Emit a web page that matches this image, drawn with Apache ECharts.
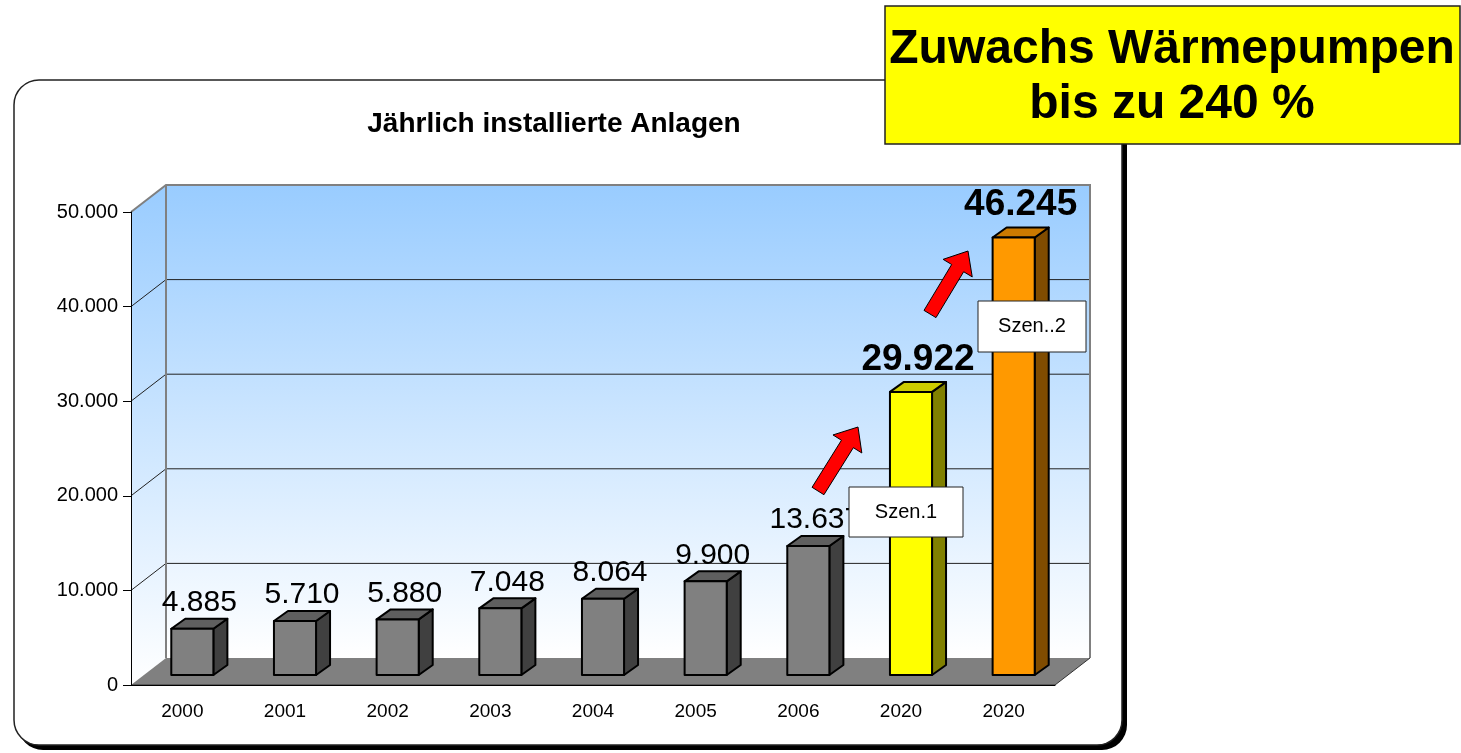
<!DOCTYPE html>
<html>
<head>
<meta charset="utf-8">
<title>Jährlich installierte Anlagen</title>
<script src="https://cdn.jsdelivr.net/npm/echarts/dist/echarts.min.js"></script>
<style>
  html, body { margin: 0; padding: 0; background: #fff; }
  #chart { width: 1461px; height: 753px; }
</style>
</head>
<body>
<div id="chart"></div>
<script>
// Daten
const categories = ['2000', '2001', '2002', '2003', '2004', '2005', '2006', '2020', '2020']
const installed = [4885, 5710, 5880, 7048, 8064, 9900, 13637, 29922, 46245]
const yTicks = [0, 10000, 20000, 30000, 40000, 50000]
const scenarioLabels = ['Szen.1', 'Szen..2']
const headline = ['Zuwachs Wärmepumpen', 'bis zu 240 %']
const chartTitle = 'Jährlich installierte Anlagen'

// Darstellung
const FONT = '"Liberation Sans", Arial, sans-serif'
const DEPTH = [35, -27] // Rückwand-Versatz
const BAR_OFF = [10, -10] // Versatz der Säulenfront
const BAR_DEPTH = [14, -10] // Säulentiefe
const faces = {
  gray: ['#808080', '#404040', '#5f5f5f'],
  yellow: ['#FFFF00', '#808000', '#CCCC00'],
  orange: ['#FF9900', '#804C00', '#CC7A00'],
}
const barFace = (i) => (i === 8 ? faces.orange : i === 7 ? faces.yellow : faces.gray)
const fmt = (v) => String(v).replace(/\B(?=(\d{3})+(?!\d))/g, '.')

// Wände, Gitterlinien und Boden
function renderWalls(params, api) {
  const cs = params.coordSys
  const x0 = cs.x
  const x1 = cs.x + cs.width
  const yTop = cs.y
  const yBot = cs.y + cs.height
  const [dx, dy] = DEPTH
  const grad = () =>
    new echarts.graphic.LinearGradient(0, 0, 0, 1, [
      { offset: 0, color: '#99CCFF' },
      { offset: 1, color: '#FFFFFF' },
    ])
  const children = [
    {
      type: 'polygon',
      shape: { points: [[x0, yTop], [x0 + dx, yTop + dy], [x0 + dx, yBot + dy], [x0, yBot]] },
      style: { fill: grad() },
    },
    {
      type: 'rect',
      shape: { x: x0 + dx, y: yTop + dy, width: cs.width, height: cs.height },
      style: { fill: grad() },
    },
  ]
  yTicks.slice(1, -1).forEach((t) => {
    const y = api.coord([0, t])[1]
    children.push({
      type: 'polyline',
      shape: { points: [[x0, y], [x0 + dx, y + dy], [x1 + dx, y + dy]] },
      style: { stroke: '#222', lineWidth: 1, fill: null },
    })
  })
  children.push({
    type: 'polyline',
    shape: { points: [[x0, yTop], [x0 + dx, yTop + dy], [x1 + dx, yTop + dy], [x1 + dx, yBot + dy]] },
    style: { stroke: '#808080', lineWidth: 2, fill: null },
  })
  children.push({
    type: 'line',
    shape: { x1: x0 + dx, y1: yTop + dy, x2: x0 + dx, y2: yBot + dy },
    style: { stroke: '#808080', lineWidth: 2 },
  })
  // Boden
  children.push({
    type: 'polygon',
    shape: { points: [[x0, yBot], [x1, yBot], [x1 + dx, yBot + dy], [x0 + dx, yBot + dy]] },
    style: { fill: '#808080' },
  })
  children.push({
    type: 'polyline',
    shape: { points: [[x0, yBot], [x1, yBot], [x1 + dx, yBot + dy]] },
    style: { stroke: '#333', lineWidth: 1, fill: null },
  })
  return { type: 'group', children }
}

// 3D-Säulen mit Beschriftung
function renderBar(params, api) {
  const i = api.value(0)
  const v = api.value(1)
  const base = api.coord([i, 0])
  const top = api.coord([i, v])
  const bw = api.size([1, 0])[0] * 0.41
  const x0 = base[0] - bw / 2 + BAR_OFF[0]
  const x1 = x0 + bw
  const yb = base[1] + BAR_OFF[1]
  const yt = top[1] + BAR_OFF[1]
  const [dx, dy] = BAR_DEPTH
  const [front, side, cap] = barFace(i)
  const edge = { stroke: '#000', lineWidth: 2, lineJoin: 'round' }
  const big = i >= 7
  return {
    type: 'group',
    children: [
      { type: 'polygon', shape: { points: [[x1, yt], [x1 + dx, yt + dy], [x1 + dx, yb + dy], [x1, yb]] }, style: { fill: side, ...edge } },
      { type: 'polygon', shape: { points: [[x0, yt], [x0 + dx, yt + dy], [x1 + dx, yt + dy], [x1, yt]] }, style: { fill: cap, ...edge } },
      { type: 'rect', shape: { x: x0, y: yt, width: bw, height: yb - yt }, style: { fill: front, ...edge } },
      {
        type: 'text',
        x: (x0 + x1) / 2 + dx / 2,
        y: yt + dy - (big ? 4 : 1),
        style: {
          text: fmt(v),
          fill: '#000',
          fontFamily: FONT,
          fontSize: big ? 37 : 30,
          fontWeight: big ? 'bold' : 'normal',
          align: 'center',
          verticalAlign: 'bottom',
        },
      },
    ],
  }
}

// Pfeil von tail nach tip
function arrow(tail, tip) {
  const ang = Math.atan2(tip[1] - tail[1], tip[0] - tail[0])
  const ux = Math.cos(ang), uy = Math.sin(ang)
  const nx = -uy, ny = ux
  const len = Math.hypot(tip[0] - tail[0], tip[1] - tail[1])
  const hl = 20, hw = 17, sw = 7
  const p = (a, b) => [tail[0] + ux * a + nx * b, tail[1] + uy * a + ny * b]
  return {
    type: 'polygon',
    z: 90,
    shape: { points: [p(0, -sw), p(len - hl, -sw), p(len - hl, -hw), p(len, 0), p(len - hl, hw), p(len - hl, sw), p(0, sw)] },
    style: { fill: '#FF0000', stroke: '#000', lineWidth: 1 },
  }
}

function labelBox(x, y, w, h, text) {
  return {
    type: 'group',
    z: 95,
    children: [
      { type: 'rect', z: 95, shape: { x, y, width: w, height: h }, style: { fill: '#fff', stroke: '#222', lineWidth: 1 } },
      { type: 'text', z: 96, x: x + w / 2, y: y + h / 2, style: { text, fill: '#000', fontFamily: FONT, fontSize: 20, align: 'center', verticalAlign: 'middle' } },
    ],
  }
}

const chartInstance = echarts.init(document.getElementById('chart'), null, { renderer: 'canvas' })

const option = {
  backgroundColor: '#fff',
  animation: false,
  grid: { left: 131, right: 406, top: 212, bottom: 68 },
  xAxis: {
    type: 'category',
    data: categories,
    z: 5,
    axisLine: { lineStyle: { color: '#000', width: 1 } },
    axisTick: { length: 6, lineStyle: { color: '#000' } },
    axisLabel: { color: '#000', fontSize: 19, fontFamily: FONT, margin: 17 },
  },
  yAxis: {
    type: 'value',
    min: 0,
    max: 50000,
    interval: 10000,
    z: 5,
    axisLine: { show: true, lineStyle: { color: '#000', width: 1 } },
    axisTick: { show: true, length: 8, lineStyle: { color: '#000' } },
    splitLine: { show: false },
    axisLabel: { color: '#000', fontSize: 20, fontFamily: FONT, margin: 13, formatter: fmt },
  },
  series: [
    { type: 'custom', name: 'walls', silent: true, clip: false, z: 1, data: [[0, 0]], renderItem: renderWalls },
    { type: 'custom', name: 'Anlagen', clip: false, z: 3, data: installed.map((v, i) => [i, v]), renderItem: renderBar },
  ],
  graphic: [
    // Rahmen mit Schatten
    { type: 'rect', z: -2, shape: { x: 18, y: 84, width: 1109, height: 666, r: 25 }, style: { fill: '#000' } },
    { type: 'rect', z: -1, shape: { x: 14, y: 80, width: 1108, height: 665, r: 25 }, style: { fill: '#fff', stroke: '#222', lineWidth: 1.5 } },
    {
      type: 'text', z: 10, x: 554, y: 124,
      style: { text: chartTitle, fill: '#000', fontFamily: FONT, fontSize: 28, fontWeight: 'bold', align: 'center', verticalAlign: 'middle' },
    },
    arrow([818, 491], [858, 427]),
    arrow([930, 314], [968, 251]),
    labelBox(849, 487, 114, 50, scenarioLabels[0]),
    labelBox(978, 301, 108, 51, scenarioLabels[1]),
    // gelber Kasten
    { type: 'rect', z: 100, shape: { x: 885, y: 6, width: 575, height: 138 }, style: { fill: '#FFFF00', stroke: '#222', lineWidth: 1.5 } },
    {
      type: 'text', z: 101, x: 1172, y: 50,
      style: { text: headline[0], fill: '#000', fontFamily: FONT, fontSize: 48, fontWeight: 'bold', align: 'center', verticalAlign: 'middle' },
    },
    {
      type: 'text', z: 101, x: 1172, y: 105,
      style: { text: headline[1], fill: '#000', fontFamily: FONT, fontSize: 48, fontWeight: 'bold', align: 'center', verticalAlign: 'middle' },
    },
  ],
}
chartInstance.setOption(option)
</script>
</body>
</html>
